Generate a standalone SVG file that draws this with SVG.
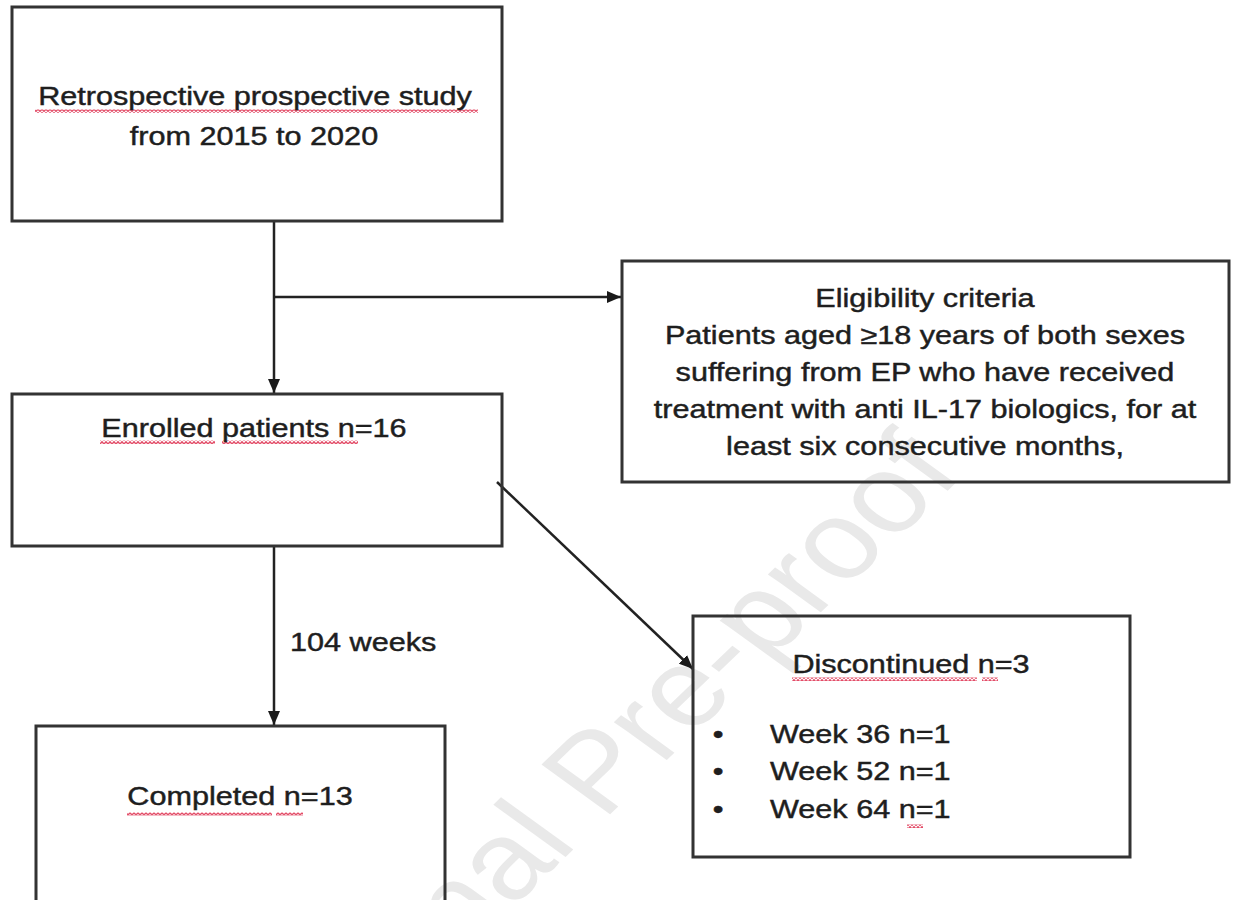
<svg xmlns="http://www.w3.org/2000/svg" width="1233" height="900" viewBox="0 0 1233 900">
<style>
.box{fill:none;stroke:#333;stroke-width:3}
.con{fill:none;stroke:#222;stroke-width:2.5}
.t{font-family:"Liberation Sans",Arial,Helvetica,sans-serif;font-size:25.5px;fill:#1e1e1e;stroke:#1e1e1e;stroke-width:0.45;text-anchor:middle}
.s{text-anchor:start}
.wm{font-family:"Liberation Sans",Arial,Helvetica,sans-serif;font-size:110px;fill:#e9e9e9;text-anchor:end}
.sq{fill:url(#squig)}
</style>
<defs>
<marker id="arr" markerWidth="14" markerHeight="12" refX="14" refY="6" orient="auto" markerUnits="userSpaceOnUse">
<path d="M0,0 L14,6 L0,12 z" fill="#1a1a1a"/>
</marker>
<pattern id="squig" patternUnits="userSpaceOnUse" width="4" height="3.5">
<polyline points="0,3 2,0.7 4,3" fill="none" stroke="#e03a58" stroke-width="1.3"/>
</pattern>
</defs>
<rect width="1233" height="900" fill="#fff"/>
<text class="wm" transform="translate(964,475) scale(1.2,1) rotate(-49)">Journal Pre-proof</text>

<g id="connectors">
<line class="con" x1="274" y1="221" x2="274" y2="393" marker-end="url(#arr)"/>
<line class="con" x1="274" y1="297" x2="621" y2="297" marker-end="url(#arr)"/>
<line class="con" x1="274" y1="546" x2="274" y2="725" marker-end="url(#arr)"/>
<line class="con" x1="497" y1="482" x2="693" y2="669" marker-end="url(#arr)"/>
<text class="t s" transform="translate(290,651) scale(1.2,1)">104 weeks</text>
</g>

<g id="study">
<rect class="box" x="12" y="7" width="490" height="214"/>
<rect class="sq" x="35" y="109.5" width="443" height="3.5"/>
<text class="t" transform="translate(255,105) scale(1.2,1)">Retrospective prospective study</text>
<text class="t" transform="translate(254,145) scale(1.2,1)">from 2015 to 2020</text>
</g>

<g id="eligibility">
<rect class="box" x="622" y="261" width="607" height="221"/>
<text class="t" transform="translate(925,307) scale(1.2,1)">Eligibility criteria</text>
<text class="t" transform="translate(925,344) scale(1.2,1)">Patients aged ≥18 years of both sexes</text>
<text class="t" transform="translate(925,381) scale(1.2,1)">suffering from EP who have received</text>
<text class="t" transform="translate(925,418) scale(1.2,1)">treatment with anti IL-17 biologics, for at</text>
<text class="t" transform="translate(925,455) scale(1.2,1)">least six consecutive months,</text>
</g>

<g id="enrolled">
<rect class="box" x="12" y="394" width="490" height="152"/>
<rect class="sq" x="100" y="440.5" width="115" height="3.5"/>
<rect class="sq" x="222" y="440.5" width="136" height="3.5"/>
<text class="t" transform="translate(254,437) scale(1.2,1)">Enrolled patients n=16</text>
</g>

<g id="discontinued">
<rect class="box" x="693" y="616" width="437" height="241"/>
<rect class="sq" x="792" y="677.5" width="185" height="3.5"/>
<rect class="sq" x="982" y="677.5" width="16" height="3.5"/>
<rect class="sq" x="907" y="824.5" width="16" height="3.5"/>
<text class="t" transform="translate(911,673) scale(1.2,1)">Discontinued n=3</text>
<text class="t" transform="translate(718,743) scale(1.2,1)">•</text>
<text class="t" transform="translate(718,780) scale(1.2,1)">•</text>
<text class="t" transform="translate(718,818) scale(1.2,1)">•</text>
<text class="t s" transform="translate(770,743) scale(1.2,1)">Week 36 n=1</text>
<text class="t s" transform="translate(770,780) scale(1.2,1)">Week 52 n=1</text>
<text class="t s" transform="translate(770,818) scale(1.2,1)">Week 64 n=1</text>
</g>

<g id="completed">
<rect class="box" x="36" y="726" width="409" height="190"/>
<rect class="sq" x="127" y="812.5" width="145" height="3.5"/>
<rect class="sq" x="276" y="812.5" width="27" height="3.5"/>
<text class="t" transform="translate(240,805) scale(1.2,1)">Completed n=13</text>
</g>
</svg>
